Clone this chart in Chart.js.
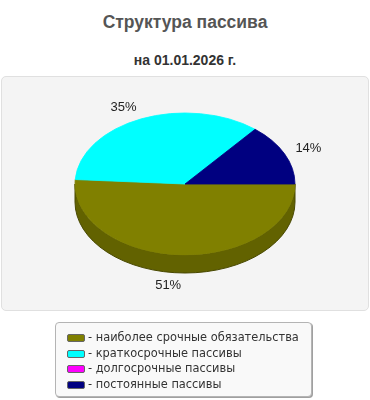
<!DOCTYPE html>
<html lang="ru">
<head>
  <meta charset="UTF-8" />
  <title>Структура пассива</title>
  <script src="https://cdn.jsdelivr.net/npm/chart.js@4.4.1/dist/chart.umd.min.js"></script>
  <style>
    * { margin: 0; padding: 0; box-sizing: border-box; }
    body {
      width: 370px;
      height: 400px;
      position: relative;
      overflow: hidden;
      background: #ffffff;
      font-family: 'Liberation Sans', Arial, sans-serif;
    }
    /* ==== Titles ==== */
    .title {
      position: absolute; left: 0; top: 12px; width: 370px;
      text-align: center; font-size: 17.5px; font-weight: bold; color: #555;
    }
    .subtitle {
      position: absolute; left: 0; top: 52px; width: 370px;
      text-align: center; font-size: 14px; font-weight: bold; color: #333;
    }
    /* ==== Plot panel ==== */
    .panel {
      position: absolute; left: 1px; top: 76px; width: 368px; height: 235px;
      background: #f4f4f4; border: 1px solid #e0e0e0; border-radius: 5px;
    }
    #pieChart { position: absolute; left: 0; top: 0; z-index: 2; }
    /* ==== Legend ==== */
    .legend {
      position: absolute; left: 55px; top: 322px; width: 257px; height: 75px;
      background: #f9f9f9; border: 1px solid #b4b4b4; border-radius: 4px;
      box-shadow: 1px 1px 0 #a0a0a0;
      padding: 7px 0 0 11px;
      font-family: 'DejaVu Sans', sans-serif; font-size: 11.4px; color: #333;
      z-index: 3;
    }
    .legend .row { height: 15.5px; line-height: 15.5px; white-space: nowrap; }
    .legend .sw {
      display: inline-block; width: 18px; height: 8px; margin-right: 3px;
      border: 1px solid #666; border-radius: 2px; vertical-align: -1px;
    }
  </style>
</head>
<body>
  <div class="title">Структура пассива</div>
  <div class="subtitle">на 01.01.2026 г.</div>
  <div class="panel"></div>
  <canvas id="pieChart" width="370" height="400"></canvas>
  <div class="legend" id="legend"></div>

  <script>
    // Chart data
    const labels = ['наиболее срочные обязательства', 'краткосрочные пассивы', 'долгосрочные пассивы', 'постоянные пассивы'];
    const shares = [51, 35, 0, 14];
    const colors = ['#808000', '#00ffff', '#ff00ff', '#000080'];
    const sideColors = ['#626200', '#00baba', '#ba00ba', '#00005e'];

    const total = shares.reduce((a, b) => a + b, 0);
    const tilt = 71 / 110;   // vertical squash of the pie
    const depth = 18;        // thickness of the 3D side
    const labelGap = 12;

    // Fake 3D: draw the side band, then squash the pie vertically, then the labels
    const pie3d = {
      id: 'pie3d',
      beforeDatasetsDraw(chart) {
        const ctx = chart.ctx;
        const arcs = chart.getDatasetMeta(0).data;
        const cx = arcs[0].x, cy = arcs[0].y, r = arcs[0].outerRadius;
        const ry = r * tilt;

        ctx.save();
        arcs.forEach((arc, i) => {
          // only the front half (0..PI) of the side is visible
          const s = Math.max(arc.startAngle, 0);
          const e = Math.min(arc.endAngle, Math.PI);
          if (e <= s) return;
          ctx.beginPath();
          ctx.ellipse(cx, cy, r, ry, 0, s, e, false);
          ctx.ellipse(cx, cy + depth, r, ry, 0, e, s, true);
          ctx.closePath();
          ctx.fillStyle = sideColors[i];
          ctx.fill();
          ctx.strokeStyle = '#484800';
          ctx.lineWidth = 1;
          ctx.stroke();
        });
        ctx.restore();

        ctx.save();
        ctx.translate(cx, cy);
        ctx.scale(1, tilt);
        ctx.translate(-cx, -cy);
      },
      afterDatasetsDraw(chart) {
        const ctx = chart.ctx;
        ctx.restore();

        const arcs = chart.getDatasetMeta(0).data;
        ctx.save();
        ctx.font = '13px "Liberation Sans", Arial, sans-serif';
        ctx.fillStyle = '#222';
        ctx.textBaseline = 'middle';
        arcs.forEach((arc, i) => {
          if (!shares[i]) return;
          const mid = (arc.startAngle + arc.endAngle) / 2;
          const r = arc.outerRadius;
          const c = Math.cos(mid), s = Math.sin(mid);
          const x = arc.x + (r + labelGap) * c;
          let y = arc.y + (r * tilt + labelGap) * s;
          if (s > 0) y += depth;
          ctx.textAlign = c < 0 ? 'right' : 'left';
          ctx.fillText(Math.round(shares[i] / total * 100) + '%', x, y);
        });
        ctx.restore();
      }
    };

    const ctxPie = document.getElementById('pieChart').getContext('2d');
    const pieChart = new Chart(ctxPie, {
      type: 'pie',
      data: {
        labels: labels,
        datasets: [{
          data: shares,
          backgroundColor: colors,
          borderColor: colors,
          borderWidth: 1
        }]
      },
      options: {
        responsive: false,
        animation: false,
        events: [],
        rotation: 90,
        radius: 110,
        layout: { padding: { top: 84, bottom: 116, left: 0, right: 0 } },
        plugins: {
          legend: { display: false },
          tooltip: { enabled: false }
        }
      },
      plugins: [pie3d]
    });

    // HTML legend
    const legendEl = document.getElementById('legend');
    labels.forEach((label, i) => {
      const row = document.createElement('div');
      row.className = 'row';
      const sw = document.createElement('span');
      sw.className = 'sw';
      sw.style.background = colors[i];
      row.appendChild(sw);
      row.appendChild(document.createTextNode('- ' + label));
      legendEl.appendChild(row);
    });
  </script>
</body>
</html>
